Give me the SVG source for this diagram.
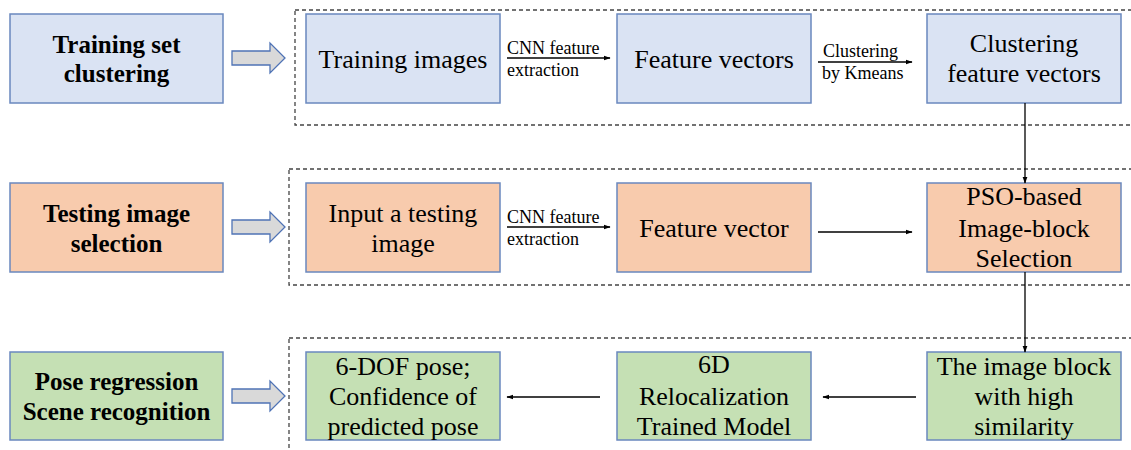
<svg xmlns="http://www.w3.org/2000/svg" width="1131" height="450" viewBox="0 0 1131 450">
<defs>
<style>
.blue{fill:#DAE3F3;stroke:#6A88BE;stroke-width:1.5}
.orange{fill:#F8CBAD;stroke:#6A88BE;stroke-width:1.5}
.green{fill:#C5E0B4;stroke:#6A88BE;stroke-width:1.5}
.dash{fill:none;stroke:#444;stroke-width:1.3;stroke-dasharray:4 3}
.blk{fill:#D9D9D9;stroke:#4F73B5;stroke-width:1.3}
.lbl{font-weight:bold;font-size:25px;fill:#000;text-anchor:middle}
.txt{font-size:26px;fill:#000;text-anchor:middle}
.sm{font-size:18px;fill:#000}
.con{stroke:#000;stroke-width:1.3;fill:none}
</style>
<marker id="ah" viewBox="0 0 10 10" refX="9" refY="5" markerWidth="7" markerHeight="7" orient="auto" markerUnits="userSpaceOnUse">
<path d="M0,1.5 L10,5 L0,8.5 z" fill="#000"/>
</marker>
</defs>
<rect width="1131" height="450" fill="#fff"/>
<g font-family="'Liberation Serif', 'Times New Roman', Times, 'DejaVu Serif', serif">

<g id="frames">
<rect class="dash" x="295" y="10" width="850" height="115"/>
<rect class="dash" x="289" y="169" width="856" height="116"/>
<rect class="dash" x="289" y="338" width="856" height="130"/>
</g>

<g id="training-set-clustering">
<rect class="blue" x="10" y="14" width="213" height="89"/>
<text class="lbl" x="116.5" y="53">Training set</text>
<text class="lbl" x="116.5" y="82">clustering</text>
</g>
<g id="arrow1"><path class="blk" d="M232,51 H270 V43 L285,58 L270,73 V65 H232 Z"/></g>
<g id="training-images">
<rect class="blue" x="306" y="14" width="194" height="89"/>
<text class="txt" x="403" y="68">Training images</text>
</g>
<g id="feature-vectors">
<rect class="blue" x="617" y="14" width="194" height="89"/>
<text class="txt" x="714" y="68">Feature vectors</text>
</g>
<g id="clustering-feature-vectors">
<rect class="blue" x="927" y="14" width="194" height="89"/>
<text class="txt" x="1024" y="52">Clustering</text>
<text class="txt" x="1024" y="82">feature vectors</text>
</g>

<g id="testing-image-selection">
<rect class="orange" x="10" y="183" width="213" height="89"/>
<text class="lbl" x="116.5" y="222">Testing image</text>
<text class="lbl" x="116.5" y="252">selection</text>
</g>
<g id="arrow2"><path class="blk" d="M232,220 H270 V212 L285,227 L270,242 V234 H232 Z"/></g>
<g id="input-testing-image">
<rect class="orange" x="306" y="183" width="194" height="89"/>
<text class="txt" x="403" y="222">Input a testing</text>
<text class="txt" x="403" y="252">image</text>
</g>
<g id="feature-vector">
<rect class="orange" x="617" y="183" width="194" height="89"/>
<text class="txt" x="714" y="237">Feature vector</text>
</g>
<g id="pso-selection">
<rect class="orange" x="927" y="183" width="194" height="89"/>
<text class="txt" x="1024" y="205">PSO-based</text>
<text class="txt" x="1024" y="237">Image-block</text>
<text class="txt" x="1024" y="267">Selection</text>
</g>

<g id="pose-regression">
<rect class="green" x="10" y="352" width="213" height="88"/>
<text class="lbl" x="116.5" y="390">Pose regression</text>
<text class="lbl" x="116.5" y="420">Scene recognition</text>
</g>
<g id="arrow3"><path class="blk" d="M232,389 H270 V381 L285,396 L270,411 V403 H232 Z"/></g>
<g id="dof-pose">
<rect class="green" x="306" y="352" width="194" height="88"/>
<text class="txt" x="403" y="375">6-DOF pose;</text>
<text class="txt" x="403" y="405">Confidence of</text>
<text class="txt" x="403" y="435">predicted pose</text>
</g>
<g id="trained-model">
<rect class="green" x="617" y="352" width="194" height="88"/>
<text class="txt" x="714" y="373">6D</text>
<text class="txt" x="714" y="405">Relocalization</text>
<text class="txt" x="714" y="435">Trained Model</text>
</g>
<g id="image-block">
<rect class="green" x="927" y="352" width="194" height="88"/>
<text class="txt" x="1024" y="375">The image block</text>
<text class="txt" x="1024" y="405">with high</text>
<text class="txt" x="1024" y="435">similarity</text>
</g>

<g id="connectors">
<line class="con" x1="507" y1="58" x2="610" y2="58" marker-end="url(#ah)"/>
<text class="sm" x="507" y="54">CNN feature</text>
<text class="sm" x="507" y="76">extraction</text>
<line class="con" x1="818" y1="62" x2="912" y2="62" marker-end="url(#ah)"/>
<text class="sm" x="823" y="57">Clustering</text>
<text class="sm" x="822" y="79">by Kmeans</text>
<line class="con" x1="1025" y1="103" x2="1025" y2="183" marker-end="url(#ah)"/>
<line class="con" x1="507" y1="227" x2="610" y2="227" marker-end="url(#ah)"/>
<text class="sm" x="507" y="223">CNN feature</text>
<text class="sm" x="507" y="245">extraction</text>
<line class="con" x1="818" y1="232" x2="912" y2="232" marker-end="url(#ah)"/>
<line class="con" x1="1025" y1="272" x2="1025" y2="352" marker-end="url(#ah)"/>
<line class="con" x1="916" y1="397" x2="823" y2="397" marker-end="url(#ah)"/>
<line class="con" x1="600" y1="397" x2="507" y2="397" marker-end="url(#ah)"/>
</g>
</g>
</svg>
